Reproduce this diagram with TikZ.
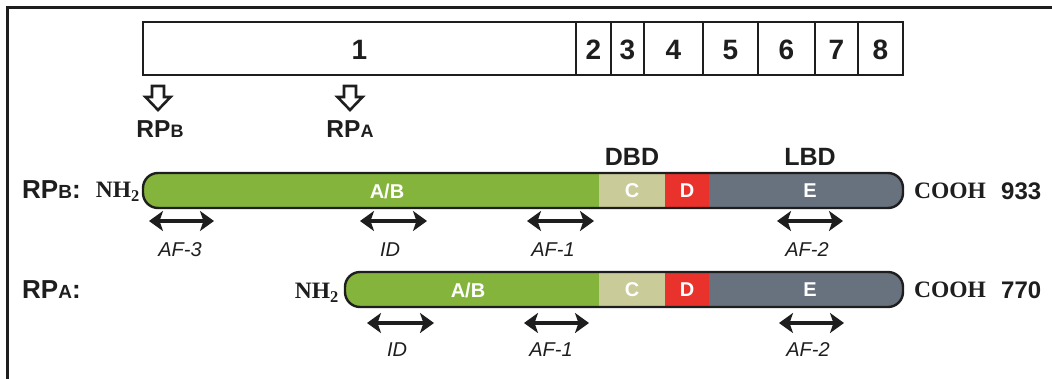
\documentclass[tikz,border=0pt]{standalone}
\usepackage{fontspec}
\setmainfont{Liberation Sans}
\newfontfamily\timesbold{Liberation Serif}[UprightFont=* Bold]
\usetikzlibrary{arrows.meta}
\definecolor{abgreen}{HTML}{84B43C}
\definecolor{cpale}{HTML}{C9CB98}
\definecolor{dred}{HTML}{E8322B}
\definecolor{egray}{HTML}{68717E}
\definecolor{ink}{HTML}{1E1E1E}
\newcommand\smallcapA[1]{{\fontsize{18}{18}\selectfont #1}}
\newcommand\smallcapB[1]{{\fontsize{19}{19}\selectfont #1}}
\begin{document}
\begin{tikzpicture}[x=1pt,y=-1pt,
  frameline/.style={line width=3pt, draw=ink},
  exonbox/.style={draw=ink, line width=2.6pt, fill=white},
  num/.style={font=\fontsize{28}{28}\selectfont\bfseries, text=ink, inner sep=0pt},
  rplabel/.style={font=\fontsize{24.5}{24.5}\selectfont\bfseries, text=ink, inner sep=0pt},
  rowlabel/.style={font=\fontsize{26}{26}\selectfont\bfseries, text=ink, inner sep=0pt},
  blockarrow/.style={draw=ink, line width=2.6pt, fill=white, line join=miter},
  barline/.style={draw=ink, line width=2.4pt, rounded corners=15pt},
  domtxt/.style={font=\fontsize{20}{20}\selectfont\bfseries, text=white, inner sep=0pt},
  domhead/.style={font=\fontsize{25}{25}\selectfont\bfseries, text=ink, inner sep=0pt},
  termtxt/.style={font=\fontsize{23.5}{23.5}\selectfont\timesbold, text=ink, inner sep=0pt},
  lentxt/.style={font=\fontsize{24}{24}\selectfont\bfseries, text=ink, inner sep=0pt},
  dbl/.style={draw=ink, line width=4.6pt, {Stealth[length=14pt,width=20pt,inset=3.5pt]}-{Stealth[length=14pt,width=20pt,inset=3.5pt]}},
  aflabel/.style={font=\fontsize{20}{20}\selectfont\itshape, text=ink, inner sep=0pt}
]
\useasboundingbox (0,0) rectangle (1052,378);
% frame (cropped)
\coordinate (fbl) at (7,380);
\coordinate (ftl) at (7,7);
\coordinate (ftr) at (1054,7);
\draw[frameline] (fbl) -- (ftl) -- (ftr);

% exon boxes
\foreach \name/\xa/\xb/\lab in {e1/143/576/1, e2/576/611/2, e3/611/644/3, e4/644/703/4, e5/703/758/5, e6/758/815/6, e7/815/858/7, e8/858/903/8}{
  \draw[exonbox] (\xa,22) rectangle (\xb,75);
  \node[num] (\name) at ({(\xa+\xb)/2},50) {\lab};
}

% block arrows
\foreach \name/\cx in {barrB/158, barrA/350}{
  \draw[blockarrow] (\cx-6,86) -- (\cx+6,86) -- (\cx+6,97) -- (\cx+12.5,97) -- (\cx,110) -- (\cx-12.5,97) -- (\cx-6,97) -- cycle;
  \coordinate (\name) at (\cx,110);
}
\node[rplabel] (isoB) at (160,129) {RP\smallcapA{B}};
\node[rplabel] (isoA) at (350,129) {RP\smallcapA{A}};

% domain headers
\node[domhead] (dbd) at (632,157) {DBD};
\node[domhead] (lbd) at (810,157) {LBD};

% RPB bar
\begin{scope}
  \clip[rounded corners=15pt] (143,173) rectangle (903,208);
  \fill[abgreen] (143,173) rectangle (599,208);
  \fill[cpale] (599,173) rectangle (665,208);
  \fill[dred] (665,173) rectangle (709,208);
  \fill[egray] (709,173) rectangle (903,208);
\end{scope}
\draw[barline] (143,173) rectangle (903,208);
\node[domtxt] (abB) at (387,191) {A/B};
\node[domtxt] (cB) at (632,191) {C};
\node[domtxt] (dB) at (687,191) {D};
\node[domtxt] (eB) at (810,191) {E};
\node[rowlabel, anchor=west] (rowB) at (22,190) {RP\smallcapB{B}:};
\node[termtxt, anchor=east] (nB) at (140,192) {NH\textsubscript{2}};
\node[termtxt, anchor=west] (cooB) at (914,191) {COOH};
\node[lentxt, anchor=west] (lenB) at (1001,191) {933};

% RPA bar
\begin{scope}
  \clip[rounded corners=15pt] (345,272) rectangle (903,307);
  \fill[abgreen] (345,272) rectangle (599,307);
  \fill[cpale] (599,272) rectangle (665,307);
  \fill[dred] (665,272) rectangle (709,307);
  \fill[egray] (709,272) rectangle (903,307);
\end{scope}
\draw[barline] (345,272) rectangle (903,307);
\node[domtxt] (abA) at (468,290) {A/B};
\node[domtxt] (cA) at (632,290) {C};
\node[domtxt] (dA) at (687,290) {D};
\node[domtxt] (eA) at (810,290) {E};
\node[rowlabel, anchor=west] (rowA) at (22,290) {RP\smallcapB{A}:};
\node[termtxt, anchor=east] (nA) at (339,293) {NH\textsubscript{2}};
\node[termtxt, anchor=west] (cooA) at (914,290) {COOH};
\node[lentxt, anchor=west] (lenA) at (1001,290) {770};

% functional regions, row B
\foreach \name/\xa/\xb/\lx/\lab in {af3B/149/214/180/AF-3, idB/360/427/390/ID, af1B/527/594/553/AF-1, af2B/777/843/807/AF-2}{
  \coordinate (\name-l) at (\xa,221);
  \coordinate (\name-r) at (\xb,221);
  \draw[dbl] (\name-l) -- (\name-r);
  \node[aflabel] (\name-t) at (\lx,250) {\lab};
}
% functional regions, row A
\foreach \name/\xa/\xb/\lx/\lab in {idA/367/434/397/ID, af1A/524/589/551/AF-1, af2A/779/844/808/AF-2}{
  \coordinate (\name-l) at (\xa,323);
  \coordinate (\name-r) at (\xb,323);
  \draw[dbl] (\name-l) -- (\name-r);
  \node[aflabel] (\name-t) at (\lx,350) {\lab};
}
\end{tikzpicture}
\end{document}
